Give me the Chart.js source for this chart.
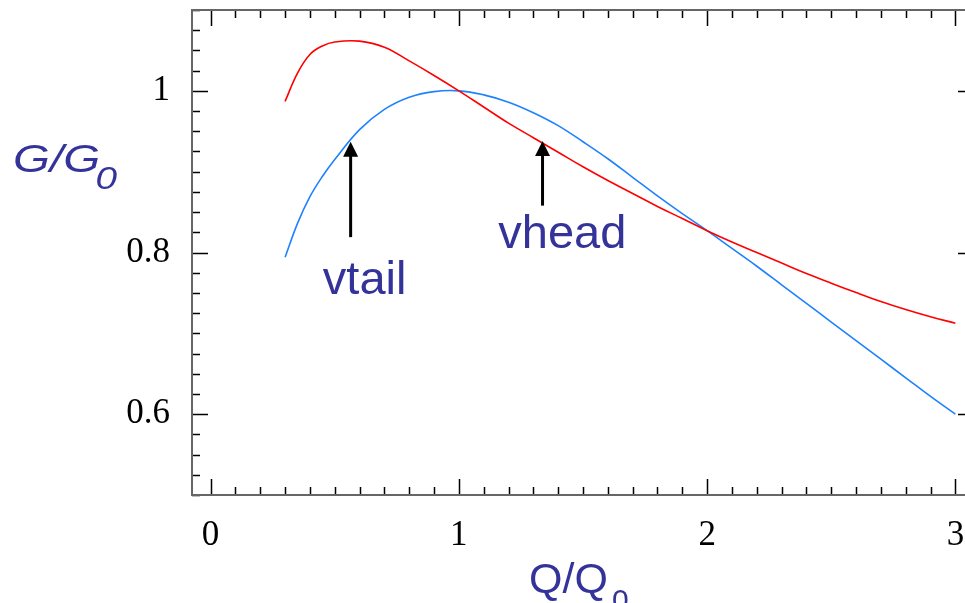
<!DOCTYPE html>
<html>
<head>
<meta charset="utf-8">
<script src="https://cdn.jsdelivr.net/npm/chart.js@4"></script>
<style>
html, body { margin: 0; padding: 0; background: #fff; overflow: hidden; }
#wrap { position: absolute; left: 0; top: 0; width: 990px; height: 603px; }
</style>
</head>
<body>
<div id="wrap"><canvas id="chart" width="990" height="603"></canvas></div>
<script>
// Q/Q0 positions the curves were read at
const qValues = [0.3, 0.35, 0.4, 0.45, 0.5, 0.6, 0.7, 0.8, 0.9, 1.0, 1.1, 1.2, 1.3, 1.4, 1.5, 1.6, 1.7, 1.8, 1.9, 2.0, 2.1, 2.2, 2.3, 2.4, 2.5, 2.6, 2.7, 2.8, 2.9, 3.0];
// red curve (vhead)
const vheadG = [0.987, 1.022, 1.045, 1.0555, 1.0605, 1.0615, 1.054, 1.037, 1.019, 1.000, 0.980, 0.960, 0.942, 0.924, 0.906, 0.889, 0.873, 0.857, 0.842, 0.827, 0.813, 0.800, 0.787, 0.774, 0.762, 0.7505, 0.7395, 0.7295, 0.7205, 0.7125];
// blue curve (vtail)
const vtailG = [0.794, 0.836, 0.869, 0.894, 0.915, 0.952, 0.977, 0.992, 0.999, 1.000, 0.995, 0.986, 0.973, 0.957, 0.937, 0.916, 0.893, 0.870, 0.848, 0.827, 0.805, 0.783, 0.760, 0.737, 0.714, 0.691, 0.668, 0.645, 0.622, 0.600];

const xTicks = [0, 1, 2, 3];
const yTicks = [0.6, 0.8, 1];

// arrows + their labels
const arrowLabels = ['vtail', 'vhead'];
const arrowQ = [0.564, 1.337];
const arrowFrom = [0.819, 0.858];
const arrowTo = [0.937, 0.938];
const labelQ = [0.452, 1.159];
const labelG = [0.749, 0.805];

const textBlue = '#333399';

const toPoints = (ys) => qValues.map((q, i) => ({ x: q, y: ys[i] }));

const framePlugin = {
    id: 'frame',
    afterDatasetsDraw(chart) {
        const { ctx, chartArea: a, scales: { x, y } } = chart;
        ctx.save();

        // inward tick marks on all four sides
        ctx.strokeStyle = '#000';
        ctx.lineWidth = 1.5;
        ctx.beginPath();
        for (let i = 0; i <= 30; i++) {
            const px = Math.round(x.getPixelForValue(i / 10)) + 0.5;
            const len = i % 10 === 0 ? 16 : 8;
            ctx.moveTo(px, a.bottom); ctx.lineTo(px, a.bottom - len);
            ctx.moveTo(px, a.top); ctx.lineTo(px, a.top + len);
        }
        for (let i = 0; i <= 24; i++) {
            const py = Math.round(y.getPixelForValue(0.5 + i * 0.025)) + 0.5;
            const len = i % 8 === 4 ? 16 : 8;
            ctx.moveTo(a.left, py); ctx.lineTo(a.left + len, py);
            ctx.moveTo(a.right, py); ctx.lineTo(a.right - len, py);
        }
        ctx.stroke();

        ctx.strokeStyle = '#666';
        ctx.lineWidth = 2;
        ctx.strokeRect(a.left, a.top, a.right - a.left, a.bottom - a.top);

        // arrows
        ctx.fillStyle = '#000';
        ctx.strokeStyle = '#000';
        ctx.lineWidth = 3;
        for (let i = 0; i < arrowQ.length; i++) {
            const px = x.getPixelForValue(arrowQ[i]);
            const y0 = y.getPixelForValue(arrowFrom[i]);
            const y1 = y.getPixelForValue(arrowTo[i]);
            ctx.beginPath();
            ctx.moveTo(px, y0);
            ctx.lineTo(px, y1 + 12);
            ctx.stroke();
            ctx.beginPath();
            ctx.moveTo(px, y1);
            ctx.lineTo(px - 7.5, y1 + 15);
            ctx.lineTo(px + 7.5, y1 + 15);
            ctx.closePath();
            ctx.fill();
        }

        ctx.fillStyle = textBlue;
        ctx.textBaseline = 'alphabetic';
        ctx.textAlign = 'left';
        ctx.font = '47px "Liberation Sans", Arial, sans-serif';
        for (let i = 0; i < arrowLabels.length; i++) {
            ctx.fillText(arrowLabels[i], x.getPixelForValue(labelQ[i]), y.getPixelForValue(labelG[i]));
        }

        // x title Q/Q0
        ctx.font = '43px "Liberation Sans", Arial, sans-serif';
        ctx.fillText('Q/Q', 529, 593);
        ctx.font = '30px "Liberation Sans", Arial, sans-serif';
        ctx.fillText('0', 612, 610);

        // y title G/G0 (wide italic)
        ctx.save();
        ctx.translate(13, 172);
        ctx.scale(1.25, 1);
        ctx.font = 'italic 38px "Liberation Sans", Arial, sans-serif';
        ctx.fillText('G/G', 0, 0);
        ctx.font = 'italic 31px "Liberation Sans", Arial, sans-serif';
        ctx.fillText('0', 66, 17);
        ctx.restore();

        ctx.restore();
    }
};

const tickFont = { family: '"Liberation Serif", "DejaVu Serif", serif', size: 35 };

new Chart(document.getElementById('chart'), {
    type: 'scatter',
    data: {
        datasets: [
            {
                label: 'vhead',
                data: toPoints(vheadG),
                showLine: true,
                borderColor: '#ff0000',
                borderWidth: 1.6,
                pointRadius: 0,
                tension: 0.4
            },
            {
                label: 'vtail',
                data: toPoints(vtailG),
                showLine: true,
                borderColor: '#1e82ff',
                borderWidth: 1.6,
                pointRadius: 0,
                tension: 0.4
            }
        ]
    },
    options: {
        responsive: false,
        animation: false,
        devicePixelRatio: 1,
        layout: { padding: { left: 0, top: 10, right: 16, bottom: 0 } },
        plugins: { legend: { display: false }, tooltip: { enabled: false } },
        scales: {
            x: {
                type: 'linear',
                min: -0.075,
                max: 3.075,
                grid: { display: false, drawTicks: false },
                border: { display: false },
                ticks: { color: '#000', font: tickFont, padding: 20, callback: (v) => String(v) },
                afterBuildTicks: (s) => { s.ticks = xTicks.map(v => ({ value: v })); },
                afterFit: (s) => { s.height = 108; s.paddingLeft = 0; s.paddingRight = 0; }
            },
            y: {
                type: 'linear',
                min: 0.5,
                max: 1.1,
                grid: { display: false, drawTicks: false },
                border: { display: false },
                ticks: { color: '#000', font: tickFont, padding: 22, callback: (v) => String(v) },
                afterBuildTicks: (s) => { s.ticks = yTicks.map(v => ({ value: v })); },
                afterFit: (s) => { s.width = 192; s.paddingTop = 0; s.paddingBottom = 0; }
            }
        }
    },
    plugins: [framePlugin]
});
</script>
</body>
</html>
